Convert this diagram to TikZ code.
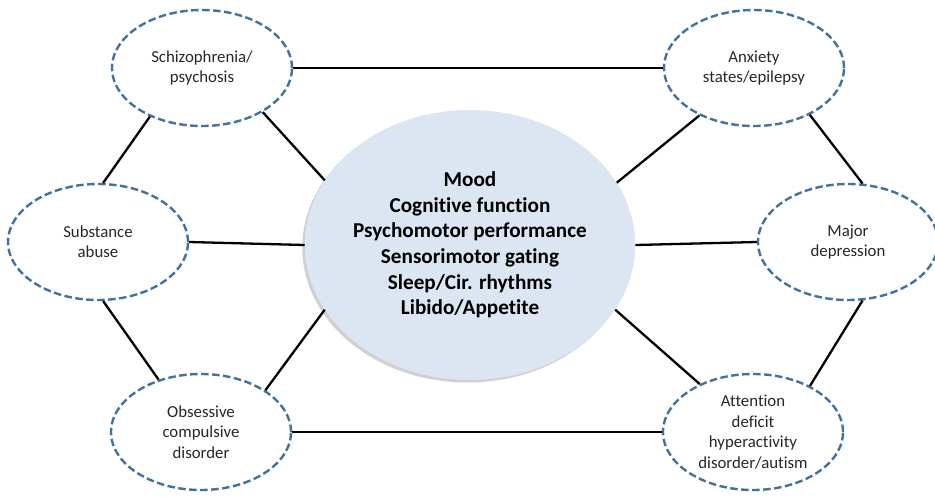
\documentclass[tikz,border=0pt]{standalone}
\usepackage{fontspec}
\setmainfont{Carlito}[Ligatures=NoCommon]
\usetikzlibrary{shapes.geometric,shadows}
\definecolor{dashblue}{RGB}{65,113,156}
\definecolor{ctrfill}{RGB}{220,230,242}
\definecolor{txtgray}{RGB}{38,38,38}
\tikzset{
  outer/.style={ellipse, draw=dashblue, line width=2.4pt, dash pattern=on 7.5pt off 3.5pt,
    minimum width=180pt, minimum height=116pt, inner sep=0pt, align=center,
    font=\fontsize{16.8}{20.4}\selectfont, text=txtgray},
  ctr/.style={ellipse, fill=ctrfill, minimum width=330pt, minimum height=270pt, inner sep=0pt,
    align=center, font=\bfseries\fontsize{21.2}{25.6}\selectfont, text=black,
    drop shadow={shadow xshift=-2.5pt, shadow yshift=-2.5pt, fill=black!45, opacity=0.4}},
  link/.style={black, line width=2.3pt}
}
\begin{document}
\begin{tikzpicture}[x=1pt,y=-1pt]
\useasboundingbox (0,0) rectangle (935,496);
\node[ctr] (c) at (470,245) {Mood\\Cognitive function\\Psychomotor performance\\Sensorimotor gating\\Sleep/Cir. rhythms\\Libido/Appetite};
\node[outer] (sch) at (202,68) {Schizophrenia/\\psychosis};
\node[outer] (anx) at (754,68) {Anxiety\\states/epilepsy};
\node[outer] (sub) at (98,242) {Substance\\abuse};
\node[outer] (maj) at (848,242) {Major\\depression};
\node[outer] (obs) at (201,432) {Obsessive\\compulsive\\disorder};
\node[outer] (att) at (753,432) {Attention\\deficit\\hyperactivity\\disorder/autism};
\draw[link] (sch.east) -- (anx.west);
\draw[link] (obs.east) -- (att.west);
\draw[link] (sch.223) -- (sub.85);
\draw[link] (sub.275) -- (obs.129);
\draw[link] (anx.320) -- (maj.76);
\draw[link] (maj.284) -- (att.39);
\draw[link] (sch.324) -- (c.156);
\draw[link] (obs.33) -- (c.204);
\draw[link] (anx.221) -- (c.23);
\draw[link] (att.138) -- (c.336);
\draw[link] (sub.east) -- (c.west);
\draw[link] (maj.west) -- (c.east);
\end{tikzpicture}
\end{document}
